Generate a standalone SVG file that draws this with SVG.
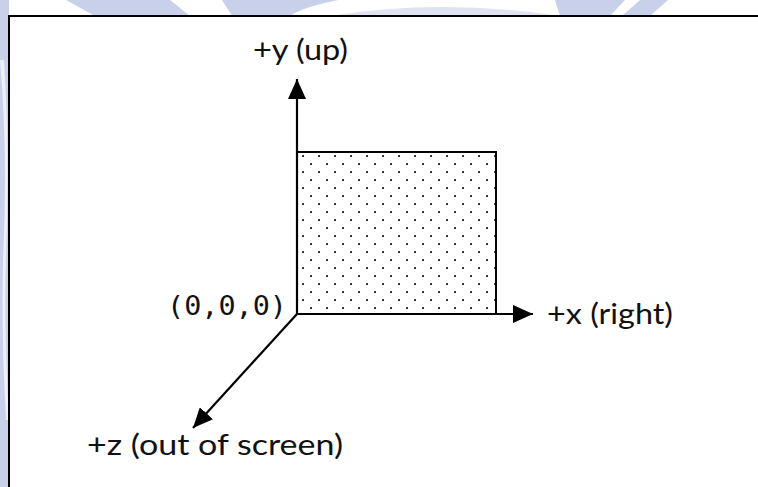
<svg xmlns="http://www.w3.org/2000/svg" width="758" height="487" viewBox="0 0 758 487">
<style>
.lbl{font-family:"Lato","Open Sans","Liberation Sans",sans-serif;font-size:28px;fill:#111}
.mono{font-family:"DejaVu Sans Mono","Liberation Mono",monospace;font-size:27px;fill:#111}
.ax{stroke:#000;stroke-width:2.2;fill:none}
.wm{fill:#c9d0ea}
</style>
<defs>
<pattern id="dots" patternUnits="userSpaceOnUse" x="299" y="152" width="16" height="16">
<rect x="3.1" y="3.1" width="1.9" height="1.9" fill="#222"/>
<rect x="11.1" y="11.1" width="1.9" height="1.9" fill="#222"/>
</pattern>
<marker id="ah" viewBox="0 0 20 18" refX="20" refY="9" markerWidth="20" markerHeight="18" markerUnits="userSpaceOnUse" orient="auto">
<path d="M0,0 L20,9 L0,18 Z" fill="#000"/>
</marker>
</defs>
<rect width="758" height="487" fill="#fff"/>
<g id="watermark">
<rect x="0" y="0" width="9" height="487" class="wm"/>
<path d="M0,60 Q8,150 3,260 Q1,330 6,420 L9,420 Q4,330 6,260 Q10,150 4,60 Z" fill="#eef0f8"/>
<path d="M66,0 L170,0 L190,16 L95,16 Z" class="wm"/>
<path d="M222,0 L338,0 Q300,8 290,16 L232,16 Z" class="wm"/>
<path d="M330,16 Q440,-2 560,16 Z" class="wm" opacity="0.6"/>
<path d="M555,0 L625,0 L610,16 L560,16 Z" class="wm"/>
<path d="M640,0 L668,0 L650,16 L622,16 Z" class="wm"/>
</g>
<rect x="9" y="16" width="760" height="480" fill="#fff" stroke="#000" stroke-width="2"/>
<g id="square">
<rect x="297" y="152" width="199" height="162" fill="url(#dots)" stroke="#000" stroke-width="2"/>
</g>
<g id="connectors">
<line class="ax" x1="297" y1="314" x2="297" y2="79" marker-end="url(#ah)"/>
<line class="ax" x1="297" y1="314" x2="533" y2="314" marker-end="url(#ah)"/>
<line class="ax" x1="297" y1="314" x2="193" y2="428" marker-end="url(#ah)"/>
</g>
<g id="label-y"><text class="lbl" x="253" y="60" textLength="95" lengthAdjust="spacingAndGlyphs">+y (up)</text></g>
<g id="label-x"><text class="lbl" x="547" y="324" textLength="126" lengthAdjust="spacingAndGlyphs">+x (right)</text></g>
<g id="label-z"><text class="lbl" x="87" y="455" textLength="256" lengthAdjust="spacingAndGlyphs">+z (out of screen)</text></g>
<g id="label-origin"><text class="mono" x="167" y="315" textLength="120" lengthAdjust="spacingAndGlyphs">(0,0,0)</text></g>
</svg>
